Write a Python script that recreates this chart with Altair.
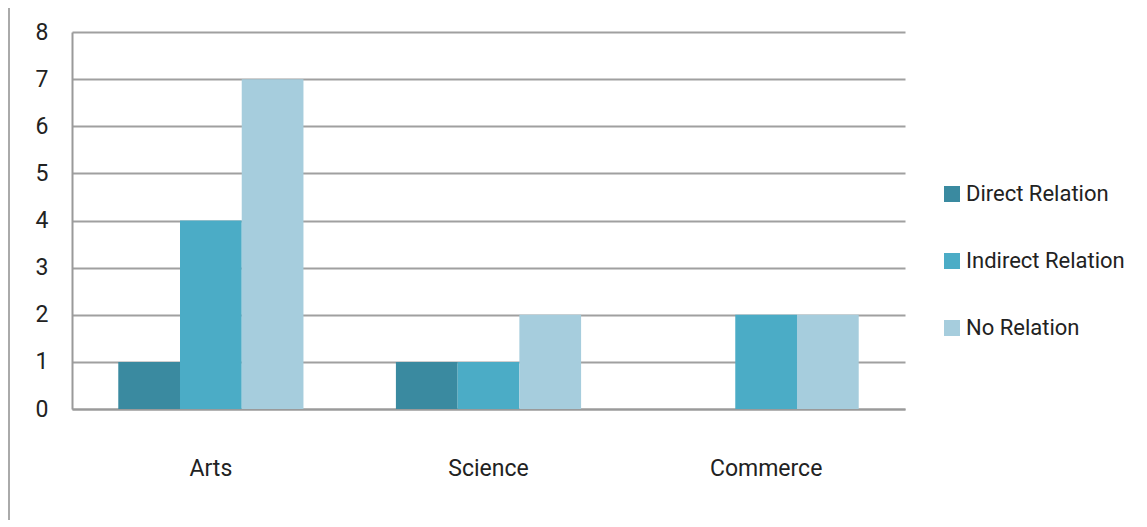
import altair as alt
import pandas as pd

categories = ["Arts", "Science", "Commerce"]
series = ["Direct Relation", "Indirect Relation", "No Relation"]
direct = [1, 1, 0]
indirect = [4, 1, 2]
no_rel = [7, 2, 2]
colors = ["#3a8aa0", "#4bacc6", "#a6cddd"]
y_ticks = [0, 1, 2, 3, 4, 5, 6, 7, 8]

rows = []
for i, c in enumerate(categories):
    for s, vals in zip(series, [direct, indirect, no_rel]):
        rows.append({"category": c, "series": s, "value": vals[i]})
df = pd.DataFrame(rows)

FONT = "Roboto"
FS = 23

bars = alt.Chart(df).mark_bar(strokeWidth=0).encode(
    x=alt.X("category:N", sort=categories,
            scale=alt.Scale(paddingInner=0.333, paddingOuter=0.1667),
            axis=alt.Axis(title=None, labelAngle=0, ticks=False, labelPadding=48,
                          labelFontSize=FS, labelFont=FONT, labelColor="#222222",
                          domainColor="#9a9a9a", domainWidth=2, grid=False)),
    xOffset=alt.XOffset("series:N", sort=series),
    y=alt.Y("value:Q", scale=alt.Scale(domain=[0, 8], nice=False),
            axis=alt.Axis(title=None, values=y_ticks, ticks=False, labelPadding=24,
                          labelFontSize=FS, labelFont=FONT, labelColor="#222222",
                          domainColor="#9a9a9a", domainWidth=2,
                          grid=True, gridColor="#a0a0a0", gridWidth=2)),
    color=alt.Color("series:N", sort=series,
                    scale=alt.Scale(domain=series, range=colors),
                    legend=alt.Legend(title=None, orient="none", legendX=869, legendY=151,
                                      symbolType="square", symbolSize=256,
                                      symbolStrokeWidth=0, labelFontSize=22,
                                      labelFont=FONT, labelColor="#222222", labelLimit=0,
                                      rowPadding=45, labelOffset=3, padding=0)),
)

border = alt.Chart(pd.DataFrame({"a": [0]})).mark_rule(color="#aaaaaa", strokeWidth=2).encode(
    x=alt.value(-63), y=alt.value(-32), y2=alt.value(495)
)

chart = alt.layer(bars, border).properties(
    width=833, height=377,
    background="#ffffff",
    autosize=alt.AutoSizeParams(type="none"),
    padding={"left": 64, "top": 24, "right": 234, "bottom": 111},
).configure_view(stroke=None)

chart.save("out.html", embed_options={"renderer": "svg", "actions": False})
